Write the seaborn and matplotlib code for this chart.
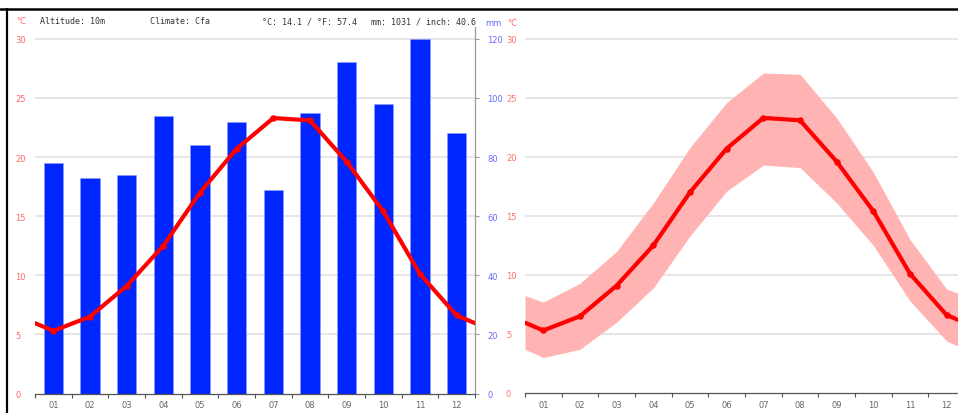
import pandas as pd
import seaborn as sns
import matplotlib.pyplot as plt
from matplotlib.lines import Line2D
from matplotlib.ticker import MultipleLocator

months = ["01", "02", "03", "04", "05", "06", "07", "08", "09", "10", "11", "12"]
precip_mm = [78, 73, 74, 94, 84, 92, 69, 95, 112, 98, 120, 88]
temp_mean = [5.3, 6.5, 9.1, 12.5, 17.0, 20.7, 23.3, 23.1, 19.6, 15.4, 10.1, 6.6]
temp_max = [7.7, 9.3, 12.0, 16.1, 20.8, 24.6, 27.1, 27.0, 23.3, 18.7, 13.0, 8.8]
temp_min = [3.0, 3.7, 6.0, 8.9, 13.3, 17.1, 19.3, 19.1, 16.1, 12.5, 7.8, 4.4]
header = ["Altitude: 10m", "Climate: Cfa", "°C: 14.1 / °F: 57.4", "mm: 1031 / inch: 40.6"]

RED = "#ff0000"
RED_TXT = "#ff6b6b"
BLUE = "#0026ff"
BLUE_TXT = "#6b6bff"
BAND = "#ffb3b3"
GRID = "#e4e4e4"

sns.set_style("white")
plt.rcParams["font.family"] = ["DejaVu Sans"]

# curves wrap round the year, so the edges take the Dec/Jan midpoint
x_pos = list(range(12))
def wrapped(vals):
    edge = (vals[0] + vals[-1]) / 2
    return [-0.5] + x_pos + [11.5], [edge] + list(vals) + [edge]

W, H = 958, 414
fig = plt.figure(figsize=(W / 100, H / 100), dpi=100)

def style_x(ax):
    ax.set_xlim(-0.5, 11.5)
    ax.set_xticks(x_pos)
    ax.set_xticklabels(months)
    ax.xaxis.set_minor_locator(MultipleLocator(1, offset=0.5))
    ax.tick_params(axis="x", which="major", length=0, pad=5, labelsize=6, labelcolor="#666666")
    ax.tick_params(axis="x", which="minor", length=3, width=0.8, color="#555555", bottom=True)
    ax.spines["bottom"].set_color("#555555")
    ax.spines["bottom"].set_linewidth(0.9)

def style_temp_y(ax, pad_px):
    ax.set_ylim(0, 31)
    ax.set_yticks(range(0, 31, 5))
    ax.tick_params(axis="y", length=0, pad=pad_px * 0.72, labelsize=6, labelcolor=RED_TXT)
    for lbl in ax.get_yticklabels():
        lbl.set_horizontalalignment("left")

# ---- left panel: precipitation bars + mean temperature
ax_t = fig.add_axes([35 / W, 1 - 394.5 / H, 440 / W, (394.5 - 28) / H])
ax_p = ax_t.twinx()
ax_t.set_zorder(ax_p.get_zorder() + 1)
ax_t.patch.set_visible(False)

ax_p.set_ylim(0, 124)
ax_p.set_yticks(range(0, 121, 20))
for v in range(20, 121, 20):
    ax_p.axhline(v, color=GRID, lw=1.3, zorder=0)
sns.barplot(x=months, y=precip_mm, color=BLUE, saturation=1, width=0.52,
            edgecolor="#8c9cff", linewidth=0.4, ax=ax_p, zorder=2)
ax_p.set_ylim(0, 124)
ax_p.set_xlabel("")
ax_p.set_ylabel("")
ax_p.tick_params(axis="y", right=True, length=3, width=0.8, color="#999999",
                 pad=6, labelsize=6, labelcolor=BLUE_TXT)
for s in ["left", "top", "bottom"]:
    ax_p.spines[s].set_visible(False)
ax_p.spines["right"].set_color("#999999")
ax_p.spines["right"].set_linewidth(0.9)

lx, ly = wrapped(temp_mean)
sns.lineplot(x=lx, y=ly, color=RED, lw=3, ax=ax_t, zorder=3)
sns.scatterplot(x=x_pos, y=temp_mean, color=RED, s=22, linewidth=0, ax=ax_t, zorder=4)
style_x(ax_t)
style_temp_y(ax_t, 20)
for s in ["left", "top", "right"]:
    ax_t.spines[s].set_visible(False)

# ---- right panel: temperature range band
ax_r = fig.add_axes([525 / W, 1 - 394 / H, 440 / W, (394 - 28) / H])
for v in range(5, 31, 5):
    ax_r.axhline(v, color=GRID, lw=1.3, zorder=0)
bx, bhi = wrapped(temp_max)
_, blo = wrapped(temp_min)
ax_r.fill_between(bx, blo, bhi, color=BAND, lw=0, zorder=1)
sns.lineplot(x=lx, y=ly, color=RED, lw=3, ax=ax_r, zorder=3)
sns.scatterplot(x=x_pos, y=temp_mean, color=RED, s=22, linewidth=0, ax=ax_r, zorder=4)
style_x(ax_r)
style_temp_y(ax_r, 19)
for s in ["left", "top", "right"]:
    ax_r.spines[s].set_visible(False)

# ---- header texts
fig.text(16 / W, 1 - 22 / H, "°C", color=RED_TXT, fontsize=6, va="center")
for xp, t in zip([40, 150, 262, 371], header):
    fig.text(xp / W, 1 - 22 / H, t, color="#333333", fontsize=6,
             family="DejaVu Sans Mono", va="center")
fig.text(485 / W, 1 - 24 / H, "mm", color=BLUE_TXT, fontsize=6, va="center")
fig.text(507 / W, 1 - 24 / H, "°C", color=RED_TXT, fontsize=6, va="center")

# page frame
fig.add_artist(Line2D([0, 1], [1 - 9.5 / H] * 2, color="black", lw=1.8, transform=fig.transFigure))
fig.add_artist(Line2D([7 / W] * 2, [0, 1 - 9.5 / H], color="black", lw=1.6, transform=fig.transFigure))

fig.savefig("out.png", dpi=100)
